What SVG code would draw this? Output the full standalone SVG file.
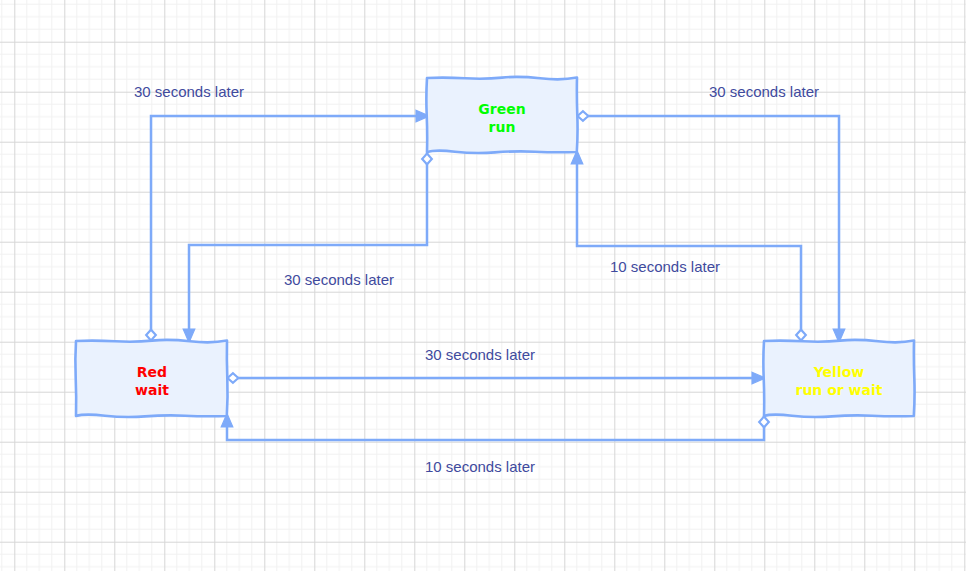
<svg xmlns="http://www.w3.org/2000/svg" width="966" height="571" viewBox="0 0 966 571">
  <style>
    .box { fill: #eaf2fe; stroke: #7eaaf9; stroke-width: 2.6; stroke-linejoin: round; stroke-linecap: round; }
    .edge { fill: none; stroke: #7eaaf9; stroke-width: 2.5; }
    .lbl { font-family: "Liberation Sans", Arial, sans-serif; font-size: 15px; fill: #3f4a9e; text-anchor: middle; }
    .node { font-family: "DejaVu Sans", "Noto Sans", sans-serif; font-weight: bold; font-size: 14px; text-anchor: middle; }
  </style>
  <defs>
    <pattern id="grid" x="14.3" y="41.7" width="50" height="50" patternUnits="userSpaceOnUse">
      <path d="M12.5 0V50M25 0V50M37.5 0V50M0 12.5H50M0 25H50M0 37.5H50" stroke="#f1f1f1" stroke-width="1" fill="none"/>
      <path d="M0.5 0V50M0 0.5H50" stroke="#d6d6d6" stroke-width="1" fill="none"/>
    </pattern>
    <marker id="arrow" markerUnits="userSpaceOnUse" markerWidth="14" markerHeight="14" refX="0" refY="5.5" orient="auto" viewBox="0 0 12 11" overflow="visible">
      <path d="M0 0.5L11.5 5.5L0 10.5Z" fill="#7eaaf9" stroke="#7eaaf9" stroke-width="1"/>
    </marker>
    <marker id="diamond" markerUnits="userSpaceOnUse" markerWidth="14" markerHeight="14" refX="0" refY="0" orient="auto" viewBox="-1 -6 13 12" overflow="visible">
      <path d="M0.5 0L5.5 -4.5L10.5 0L5.5 4.5Z" fill="#ffffff" stroke="#7eaaf9" stroke-width="2"/>
    </marker>
  </defs>
  <rect width="966" height="571" fill="#ffffff"/>
  <rect width="966" height="571" fill="url(#grid)"/>

  <g id="connectors">
    <path class="edge" d="M151 341V116H416" marker-start="url(#diamond)" marker-end="url(#arrow)"/>
    <path class="edge" d="M427 153V245H189V329" marker-start="url(#diamond)" marker-end="url(#arrow)"/>
    <path class="edge" d="M577 116H839V329" marker-start="url(#diamond)" marker-end="url(#arrow)"/>
    <path class="edge" d="M801 341V246H577V164" marker-start="url(#diamond)" marker-end="url(#arrow)"/>
    <path class="edge" d="M227 378H752" marker-start="url(#diamond)" marker-end="url(#arrow)"/>
    <path class="edge" d="M764 416V440H227V427" marker-start="url(#diamond)" marker-end="url(#arrow)"/>
    <text class="lbl" x="189" y="97">30 seconds later</text>
    <text class="lbl" x="339" y="285">30 seconds later</text>
    <text class="lbl" x="764" y="97">30 seconds later</text>
    <text class="lbl" x="665" y="272">10 seconds later</text>
    <text class="lbl" x="480" y="360">30 seconds later</text>
    <text class="lbl" x="480" y="472">10 seconds later</text>
  </g>

  <g id="green">
    <path class="box" d="M427 78Q445 77.2 465 78.3T502 77.6T540 78.3T577 77.6Q576.6 96 577.3 115T576.8 152Q555 152.6 535 151.7T495 152.4T455 151.7T427 152.2Q427.5 134 426.7 115T427 78Z"/>
    <text class="node" x="502" y="114" fill="#00ff00">Green</text>
    <text class="node" x="502" y="132" fill="#00ff00">run</text>
  </g>

  <g id="red">
    <path class="box" d="M76 341Q95 340.2 115 341.3T152 340.6T190 341.3T227 340.6Q226.6 359 227.3 378T226.8 416Q205 416.6 185 415.7T145 416.4T105 415.7T76 416Q76.5 397 75.7 378T76 341Z"/>
    <text class="node" x="152" y="377" fill="#ff0000">Red</text>
    <text class="node" x="152" y="395" fill="#ff0000">wait</text>
  </g>

  <g id="yellow">
    <path class="box" d="M764 341Q783 340.2 803 341.3T840 340.6T878 341.3T914 340.6Q913.6 359 914.3 378T913.8 416Q892 416.6 872 415.7T832 416.4T792 415.7T764 416Q764.5 397 763.7 378T764 341Z"/>
    <text class="node" x="839" y="377" fill="#ffff00">Yellow</text>
    <text class="node" x="839" y="395" fill="#ffff00">run or wait</text>
  </g>
</svg>
